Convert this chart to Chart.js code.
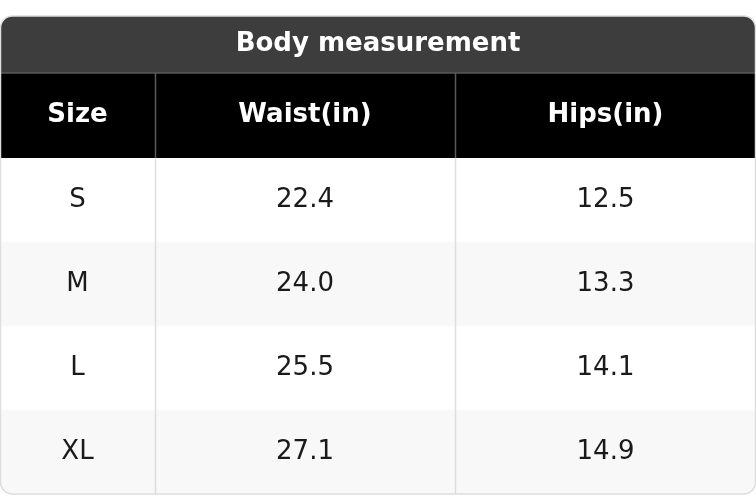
<!DOCTYPE html>
<html><head><meta charset="utf-8">
<script src="https://cdn.jsdelivr.net/npm/chart.js@4/dist/chart.umd.min.js"></script>
<style>html,body{margin:0;padding:0;background:#fff}</style>
</head><body>
<canvas id="c" width="756" height="496"></canvas>
<script>
const title = "Body measurement";
const headers = ["Size", "Waist(in)", "Hips(in)"];
const sizes = ["S", "M", "L", "XL"];
const waist = [22.4, 24.0, 25.5, 27.1];
const hips = [12.5, 13.3, 14.1, 14.9];

const colEdges = [0, 155, 455, 756];
const titleTop = 16, headTop = 73, bodyTop = 158, rowH = 84, bottom = 494;

function rr(ctx, x, y, w, h, r, top, bot) {
  ctx.beginPath();
  ctx.moveTo(x + (top ? r : 0), y);
  ctx.lineTo(x + w - (top ? r : 0), y);
  if (top) ctx.arcTo(x + w, y, x + w, y + r, r);
  ctx.lineTo(x + w, y + h - (bot ? r : 0));
  if (bot) ctx.arcTo(x + w, y + h, x + w - r, y + h, r);
  ctx.lineTo(x + (bot ? r : 0), y + h);
  if (bot) ctx.arcTo(x, y + h, x, y + h - r, r);
  ctx.lineTo(x, y + (top ? r : 0));
  if (top) ctx.arcTo(x, y, x + r, y, r);
  ctx.closePath();
}

const tablePlugin = {
  id: 'table',
  afterDraw(chart) {
    const ctx = chart.ctx;
    const xs = chart.scales.x, ys = chart.scales.y;
    const X = v => xs.getPixelForValue(v), Y = v => ys.getPixelForValue(v);
    const L = X(0), R = X(756);
    ctx.save();
    // body background with border
    rr(ctx, L + 0.5, Y(titleTop), R - L - 1, Y(bottom) - Y(titleTop), 12, true, true);
    ctx.fillStyle = '#fff'; ctx.fill();
    ctx.save(); ctx.clip();
    // rows
    const rows = sizes.map((s, i) => [s, waist[i].toFixed(1), hips[i].toFixed(1)]);
    rows.forEach((r, i) => {
      const y0 = Y(bodyTop + i * rowH);
      ctx.fillStyle = i % 2 ? '#f8f8f8' : '#ffffff';
      ctx.fillRect(L, y0, R - L, rowH);
    });
    // title
    ctx.fillStyle = '#3d3d3d';
    ctx.fillRect(L, Y(titleTop), R - L, Y(headTop) - Y(titleTop));
    ctx.fillStyle = '#000';
    ctx.fillRect(L, Y(headTop), R - L, Y(bodyTop) - Y(headTop));
    // lines
    ctx.strokeStyle = '#5a5a5a'; ctx.lineWidth = 1.5;
    ctx.beginPath(); ctx.moveTo(L, Y(headTop)); ctx.lineTo(R, Y(headTop)); ctx.stroke();
    for (let k = 1; k < colEdges.length - 1; k++) {
      const x = X(colEdges[k]) + 0.5;
      ctx.strokeStyle = '#5a5a5a';
      ctx.beginPath(); ctx.moveTo(x, Y(headTop)); ctx.lineTo(x, Y(bodyTop)); ctx.stroke();
      ctx.strokeStyle = '#dddddd';
      ctx.beginPath(); ctx.moveTo(x, Y(bodyTop)); ctx.lineTo(x, Y(bottom)); ctx.stroke();
    }
    ctx.restore();
    rr(ctx, L + 0.5, Y(titleTop), R - L - 1, Y(bottom) - Y(titleTop), 12, true, true);
    ctx.strokeStyle = '#dddddd'; ctx.lineWidth = 1.5; ctx.stroke();
    // text
    ctx.textAlign = 'center'; ctx.textBaseline = 'middle';
    ctx.fillStyle = '#fff';
    ctx.font = 'bold 26px "DejaVu Sans"';
    ctx.fillText(title, (L + R) / 2, (Y(titleTop) + Y(headTop)) / 2);
    headers.forEach((h, k) => {
      ctx.fillText(h, (X(colEdges[k]) + X(colEdges[k + 1])) / 2, (Y(headTop) + Y(bodyTop)) / 2);
    });
    ctx.fillStyle = '#1a1a1a';
    ctx.font = '26px "DejaVu Sans"';
    rows.forEach((r, i) => {
      r.forEach((t, k) => {
        ctx.fillText(t, (X(colEdges[k]) + X(colEdges[k + 1])) / 2, Y(bodyTop + i * rowH + rowH / 2));
      });
    });
    ctx.restore();
  }
};

new Chart(document.getElementById('c'), {
  type: 'scatter',
  data: { datasets: [{ data: [] }] },
  options: {
    responsive: false, animation: false, devicePixelRatio: 1,
    layout: { padding: 0 },
    plugins: { legend: { display: false }, tooltip: { enabled: false } },
    scales: {
      x: { type: 'linear', min: 0, max: 756, display: false },
      y: { type: 'linear', min: 0, max: 496, reverse: true, display: false }
    }
  },
  plugins: [tablePlugin]
});
</script>
</body></html>
